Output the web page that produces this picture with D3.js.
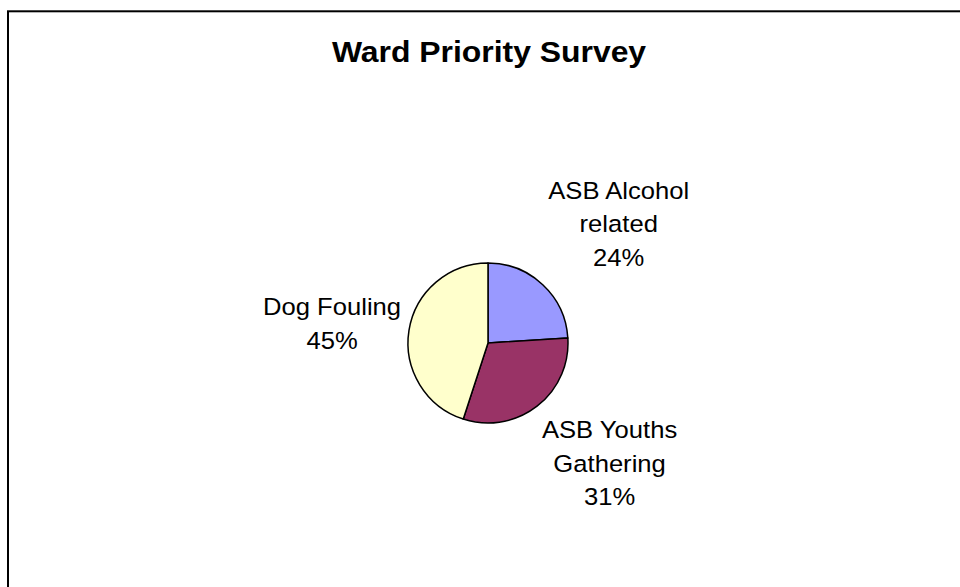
<!DOCTYPE html>
<html>
<head>
<meta charset="utf-8">
<script src="https://cdn.jsdelivr.net/npm/d3@7.9.0/dist/d3.min.js"></script>
<style>
  body { margin: 0; background: #fff; }
  svg { display: block; }
  text { font-family: Arial, "Liberation Sans", sans-serif; fill: #000; }
</style>
</head>
<body>
<div id="chart"></div>
<script>
// data
const categories = ['ASB Alcohol related', 'ASB Youths Gathering', 'Dog Fouling'];
const labelLines = [['ASB Alcohol', 'related'], ['ASB Youths', 'Gathering'], ['Dog Fouling']];
const values = [24, 31, 45];
const colors = ['#9999FF', '#993366', '#FFFFCC'];
const title = 'Ward Priority Survey';

const width = 960;
const height = 587;
const cx = 488;
const cy = 343;
const radius = 80;
// labels hang off an ellipse a little outside the pie
const labelRx = 88;
const labelRy = 99;
const stretch = 1.09; // text in the picture is rendered a bit wide
const lineHeight = 33.5;

const svg = d3
  .select('#chart')
  .append('svg')
  .attr('width', width)
  .attr('height', height);

// chart frame (runs off the right and bottom of the picture)
svg
  .append('rect')
  .attr('x', 8)
  .attr('y', 11.3)
  .attr('width', 964)
  .attr('height', 600)
  .attr('fill', '#fff')
  .attr('stroke', '#000')
  .attr('stroke-width', 2);

svg
  .append('text')
  .attr('transform', `translate(489, 62) scale(1.1, 1)`)
  .attr('text-anchor', 'middle')
  .style('font-weight', 'bold')
  .style('font-size', '29px')
  .text(title);

const total = d3.sum(values);
const pct = d3.format('.0%');

const pie = d3.pie().sort(null).value((d) => d);
const arcs = pie(values);
const arc = d3.arc().innerRadius(0).outerRadius(radius);

const g = svg.append('g').attr('transform', `translate(${cx}, ${cy})`);

g.selectAll('path')
  .data(arcs)
  .join('path')
  .attr('d', arc)
  .attr('fill', (d, i) => colors[i])
  .attr('stroke', '#000')
  .attr('stroke-width', 1.5)
  .attr('stroke-linejoin', 'round');

// labels: box edge nearest the pie sits on the label ellipse
arcs.forEach((a, i) => {
  const mid = (a.startAngle + a.endAngle) / 2;
  const dx = Math.sin(mid);
  const dy = -Math.cos(mid);
  const ax = cx + dx * labelRx;
  const ay = cy + dy * labelRy;

  const lines = [...labelLines[i], pct(values[i] / total)];

  const lbl = svg.append('g');
  const txt = lbl
    .append('text')
    .attr('text-anchor', 'middle')
    .style('font-size', '23.5px');
  lines.forEach((l, k) => {
    txt.append('tspan').attr('x', 0).attr('y', k * lineHeight).text(l);
  });

  const w = txt.node().getBBox().width * stretch;
  const top = -17;
  const bottom = (lines.length - 1) * lineHeight + 5;
  const h = bottom - top;

  const bx = ax + Math.sign(dx) * w / 2;
  const fy = Math.sign(dy) * Math.min(1, 2 * dy * dy);
  const by = ay + fy * h / 2;
  const firstBase = by - h / 2 - top;

  lbl.attr('transform', `translate(${bx}, ${firstBase}) scale(${stretch}, 1)`);
});
</script>
</body>
</html>
